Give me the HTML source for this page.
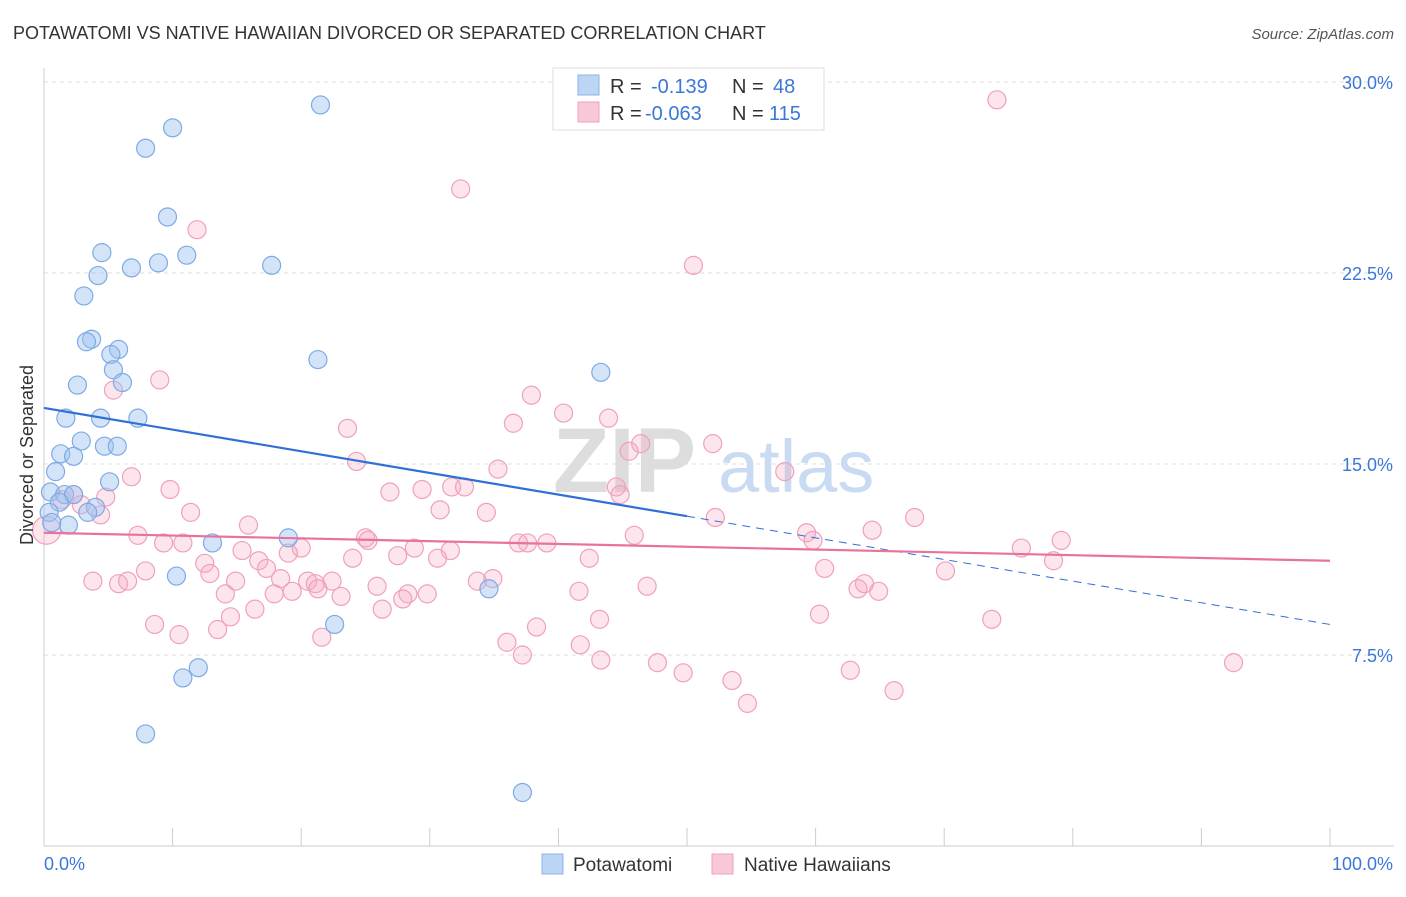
<!DOCTYPE html>
<html><head><meta charset="utf-8"><style>
body{margin:0;background:#fff;font-family:"Liberation Sans",sans-serif;}
svg text{font-family:"Liberation Sans",sans-serif;}
</style></head><body>
<svg id="chart" width="1406" height="892" xmlns="http://www.w3.org/2000/svg">
<text x="13" y="39" font-size="18" fill="#333">POTAWATOMI VS NATIVE HAWAIIAN DIVORCED OR SEPARATED CORRELATION CHART</text>
<text x="1394" y="39" font-size="15" fill="#555" text-anchor="end" font-style="italic">Source: ZipAtlas.com</text>
<g>
<text x="553" y="492" font-size="92" font-family="Liberation Serif" fill="#ddd" font-weight="bold">ZIP</text>
<text x="718" y="492" font-size="74" fill="#c8dbf2">atlas</text>
</g>
<g id="grid"></g>
<g id="axes"></g>
<g id="pts"></g>
<g id="trends"></g>
<text transform="translate(33,455) rotate(-90)" font-size="18" fill="#333" text-anchor="middle">Divorced or Separated</text>
<g>
<rect x="553" y="68" width="271" height="62" fill="#fff" stroke="#ddd"/>
<rect x="578" y="75" width="21" height="20" fill="#bcd5f5" stroke="#8ab4e8"/>
<rect x="578" y="102" width="21" height="20" fill="#f8c8d6" stroke="#f0a0bc"/>
<text x="610" y="93" font-size="20" fill="#333">R =</text>
<text x="651" y="93" font-size="20" fill="#3a78d8">-0.139</text>
<text x="732" y="93" font-size="20" fill="#333">N =</text>
<text x="773" y="93" font-size="20" fill="#3a78d8">48</text>
<text x="610" y="120" font-size="20" fill="#333">R =</text>
<text x="645" y="120" font-size="20" fill="#3a78d8">-0.063</text>
<text x="732" y="120" font-size="20" fill="#333">N =</text>
<text x="769" y="120" font-size="20" fill="#3a78d8">115</text>
</g>
<g>
<rect x="542" y="854" width="21" height="20" fill="#bcd5f5" stroke="#8ab4e8"/>
<text x="573" y="871" font-size="19" fill="#333">Potawatomi</text>
<rect x="712" y="854" width="21" height="20" fill="#f8c8d6" stroke="#f0a0bc"/>
<text x="744" y="871" font-size="19" fill="#333">Native Hawaiians</text>
</g>
</svg>
<script>
const yTicks=[7.5,15,22.5,30];
const yTickLabels=["7.5%","15.0%","22.5%","30.0%"];
const xTicks=[0,10,20,30,40,50,60,70,80,90,100];
const xLabels=["0.0%","100.0%"];
const blueX=[21.5,10.0,7.9,9.6,4.5,11.1,8.9,6.8,17.7,4.2,3.1,3.7,3.3,5.8,5.2,21.3,43.3,5.4,2.6,6.1,1.7,4.4,7.3,2.9,4.7,5.7,1.3,2.3,0.9,5.1,0.5,1.6,2.3,1.2,4.0,3.4,0.4,1.9,0.6,13.1,19.0,10.3,34.6,22.6,12.0,10.8,7.9,37.2];
const blueY=[29.1,28.2,27.4,24.7,23.3,23.2,22.9,22.7,22.8,22.4,21.6,19.9,19.8,19.5,19.3,19.1,18.6,18.7,18.1,18.2,16.8,16.8,16.8,15.9,15.7,15.7,15.4,15.3,14.7,14.3,13.9,13.8,13.8,13.5,13.3,13.1,13.1,12.6,12.7,11.9,12.1,10.6,10.1,8.7,7.0,6.6,4.4,2.1];
const pinkX=[74.1,32.4,11.9,50.5,9.0,5.4,37.9,40.4,43.9,36.5,23.6,46.4,45.5,52.0,24.3,35.3,57.6,6.8,44.5,44.8,26.9,29.4,31.7,32.7,4.8,2.3,1.4,9.8,2.9,4.4,11.4,30.8,34.4,52.2,67.7,15.9,64.4,7.3,59.3,59.8,45.9,79.1,76.0,9.3,10.8,25.0,25.2,15.4,20.0,19.0,28.8,31.6,30.6,27.5,37.6,39.1,36.9,42.4,78.5,24.0,16.7,12.5,12.9,17.3,70.1,60.7,7.9,33.7,34.9,18.4,20.5,22.4,3.8,5.8,6.5,14.9,21.1,25.9,28.3,29.8,27.9,46.9,41.6,63.3,63.8,64.9,14.1,17.9,19.3,23.1,21.3,26.3,16.4,14.5,60.3,73.7,43.2,8.6,13.5,10.5,21.6,38.3,36.0,41.7,37.2,43.3,47.7,49.7,53.5,62.7,92.5,66.1,54.7,0.2];
const pinkY=[29.3,25.8,24.2,22.8,18.3,17.9,17.7,17.0,16.8,16.6,16.4,15.8,15.5,15.8,15.1,14.8,14.7,14.5,14.1,13.8,13.9,14.0,14.1,14.1,13.7,13.8,13.6,14.0,13.4,13.0,13.1,13.2,13.1,12.9,12.9,12.6,12.4,12.2,12.3,12.0,12.2,12.0,11.7,11.9,11.9,12.1,12.0,11.6,11.7,11.5,11.7,11.6,11.3,11.4,11.9,11.9,11.9,11.3,11.2,11.3,11.2,11.1,10.7,10.9,10.8,10.9,10.8,10.4,10.5,10.5,10.4,10.4,10.4,10.3,10.4,10.4,10.3,10.2,9.9,9.9,9.7,10.2,10.0,10.1,10.3,10.0,9.9,9.9,10.0,9.8,10.1,9.3,9.3,9.0,9.1,8.9,8.9,8.7,8.5,8.3,8.2,8.6,8.0,7.9,7.5,7.3,7.2,6.8,6.5,6.9,7.2,6.1,5.6,12.4];
const blueTrend=[17.2,8.7];
const pinkTrend=[12.3,11.2];
const NS="http://www.w3.org/2000/svg";
const X0=44,X1=1330,Y0=846,PXY=191/7.5;
function sx(v){return X0+(X1-X0)*v/100;}
function sy(v){return Y0-v*PXY;}
function mk(tag,attrs,parent){const e=document.createElementNS(NS,tag);for(const k in attrs)e.setAttribute(k,attrs[k]);parent.appendChild(e);return e;}
const grid=document.getElementById('grid'),axes=document.getElementById('axes'),pts=document.getElementById('pts'),tr=document.getElementById('trends');
yTicks.forEach((t,i)=>{
 const l=mk('line',{x1:X0,x2:1394,y1:sy(t),y2:sy(t),stroke:'#ddd','stroke-dasharray':'4,4'},grid);
 
 
 const tx=mk('text',{x:1393,y:sy(t)+7,'font-size':18,fill:'#3a78d8','text-anchor':'end'},axes);
 tx.textContent=yTickLabels[i];
 
 
});
mk('line',{x1:X0,x2:X0,y1:68,y2:846,stroke:'#ccc'},axes);
mk('line',{x1:X0,x2:1394,y1:846,y2:846,stroke:'#ccc'},axes);
xTicks.forEach(t=>{const l=mk('line',{x1:sx(t),x2:sx(t),y1:828,y2:846,stroke:'#ccc'},axes);
 
 });
const xl0=mk('text',{x:44,y:870,'font-size':18,fill:'#3a78d8'},axes);xl0.textContent=xLabels[0];


const xl1=mk('text',{x:1393,y:870,'font-size':18,fill:'#3a78d8','text-anchor':'end'},axes);xl1.textContent=xLabels[1];


pinkX.forEach((x,i)=>{const c=mk('circle',{cx:sx(x),cy:sy(pinkY[i]),r:i===pinkX.length-1?14:9,fill:'rgba(244,170,195,0.3)',stroke:'#f0a0bc','stroke-width':1.2},pts);
 
 });
blueX.forEach((x,i)=>{const c=mk('circle',{cx:sx(x),cy:sy(blueY[i]),r:9,fill:'rgba(160,196,240,0.45)',stroke:'#7eaae4','stroke-width':1.2},pts);
 
 });
function ty(tv,x){return tv[0]+(tv[1]-tv[0])*x/100;}
const b1=mk('line',{x1:sx(0),y1:sy(ty(blueTrend,0)),x2:sx(50),y2:sy(ty(blueTrend,50)),stroke:'#2f6fd6','stroke-width':2.2},tr);


const b2=mk('line',{x1:sx(50),y1:sy(ty(blueTrend,50)),x2:sx(100),y2:sy(ty(blueTrend,100)),stroke:'#2f6fd6','stroke-width':1,'stroke-dasharray':'8,6'},tr);


const p1=mk('line',{x1:sx(0),y1:sy(pinkTrend[0]),x2:sx(100),y2:sy(pinkTrend[1]),stroke:'#e8739a','stroke-width':2.2},tr);


</script>
</body></html>
